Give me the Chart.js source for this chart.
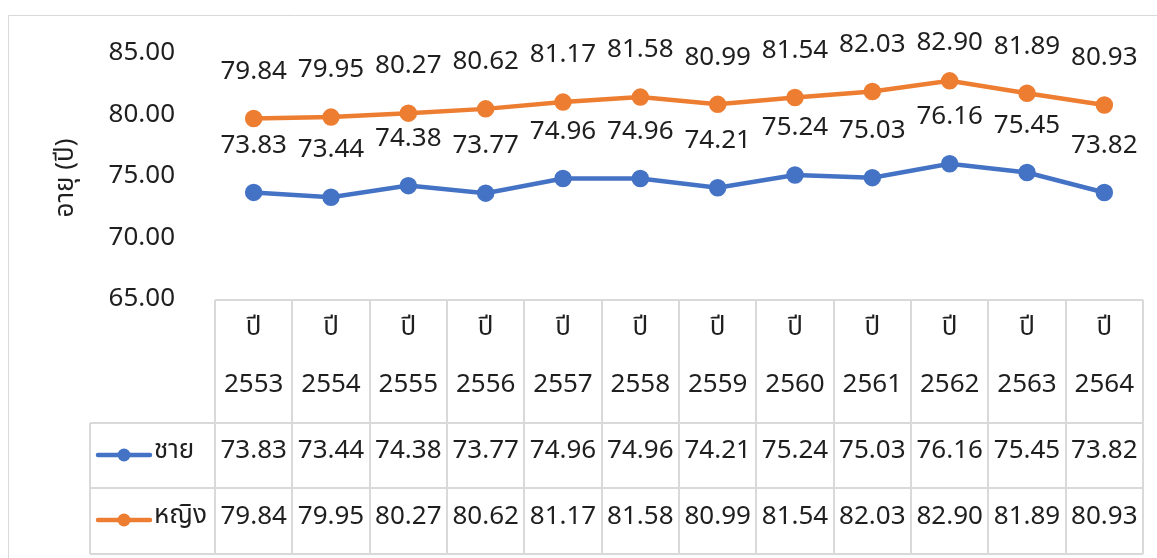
<!DOCTYPE html>
<html>
<head>
<meta charset="utf-8">
<script src="https://cdn.jsdelivr.net/npm/chart.js@4.4.0/dist/chart.umd.min.js"></script>
<style>
  html, body { margin: 0; padding: 0; background: #fff; }
  #wrap { width: 1157px; height: 558px; position: relative; }
</style>
</head>
<body>
<div id="wrap"><canvas id="myChart" width="1157" height="558"></canvas></div>
<script>
// ข้อมูลอายุคาดเฉลี่ย
const years = ["2553", "2554", "2555", "2556", "2557", "2558", "2559", "2560", "2561", "2562", "2563", "2564"];
const male = [73.83, 73.44, 74.38, 73.77, 74.96, 74.96, 74.21, 75.24, 75.03, 76.16, 75.45, 73.82];
const female = [79.84, 79.95, 80.27, 80.62, 81.17, 81.58, 80.99, 81.54, 82.03, 82.90, 81.89, 80.93];
const yTicks = [65, 70, 75, 80, 85];
const seriesNames = ["ชาย", "หญิง"];
const yTitle = "อายุ (ปี)";

const FONT = "'Noto Sans Thai', 'Noto Sans', sans-serif";
const textCol = "#1f1f1f";
const gridCol = "#d9d9d9";

// ป้ายค่าเหนือจุด
const labelPlugin = {
    id: "labels",
    afterDatasetsDraw(chart) {
        let c = chart.ctx;
        c.save();
        c.font = "26px " + FONT;
        c.fillStyle = textCol;
        c.textAlign = "center";
        c.textBaseline = "middle";
        chart.data.datasets.forEach(function (ds, i) {
            chart.getDatasetMeta(i).data.forEach(function (pt, j) {
                let y = Math.max(pt.y - 45, 45);
                c.fillText(ds.data[j].toFixed(2), pt.x, y);
            });
        });
        c.restore();
    }
};

// ตารางข้อมูลใต้กราฟ
const tablePlugin = {
    id: "dataTable",
    afterDraw(chart) {
        let c = chart.ctx;
        let xs = chart.scales.x;
        let left = chart.chartArea.left, right = chart.chartArea.right;
        let step = (right - left) / years.length;
        let top = 300, r1 = 423, r2 = 488, r3 = 554, legL = 90;
        c.save();
        // กรอบนอก
        c.strokeStyle = gridCol;
        c.lineWidth = 1;
        c.beginPath();
        c.moveTo(8.5, 558); c.lineTo(8.5, 15.5); c.lineTo(1157, 15.5);
        c.stroke();

        c.lineWidth = 2;
        c.beginPath();
        c.moveTo(left, top); c.lineTo(right, top);
        c.moveTo(legL, r1); c.lineTo(right, r1);
        c.moveTo(legL, r2); c.lineTo(right, r2);
        c.moveTo(legL, r3); c.lineTo(right, r3);
        c.moveTo(legL, r1); c.lineTo(legL, r3);
        for (let i = 0; i <= years.length; i++) {
            let x = Math.round(left + i * step);
            c.moveTo(x, top); c.lineTo(x, r3);
        }
        c.stroke();

        c.font = "26px " + FONT;
        c.fillStyle = textCol;
        c.textAlign = "center";
        c.textBaseline = "middle";
        years.forEach(function (yr, i) {
            let x = xs.getPixelForValue(i);
            c.fillText("ปี", x, 330);
            c.fillText(yr, x, 387);
            c.fillText(male[i].toFixed(2), x, 453);
            c.fillText(female[i].toFixed(2), x, 519);
        });

        // สัญลักษณ์
        chart.data.datasets.forEach(function (ds, i) {
            let y = i == 0 ? 455 : 520;
            c.strokeStyle = ds.borderColor;
            c.lineWidth = 4.5;
            c.lineCap = "round";
            c.beginPath();
            c.moveTo(98, y); c.lineTo(150, y);
            c.stroke();
            c.fillStyle = ds.borderColor;
            c.beginPath();
            c.arc(124, y, 6.5, 0, Math.PI * 2);
            c.fill();
            c.fillStyle = textCol;
            c.textAlign = "left";
            c.fillText(ds.label, 154, y - 2);
        });
        c.restore();
    }
};

let ctx = document.getElementById("myChart").getContext("2d");
let myChart = new Chart(ctx, {
    type: "line",
    data: {
        labels: years,
        datasets: [
            { label: seriesNames[0], data: male, borderColor: "#4472C4", backgroundColor: "#4472C4",
              borderWidth: 4.5, pointRadius: 6.5, pointHoverRadius: 6.5 },
            { label: seriesNames[1], data: female, borderColor: "#ED7D31", backgroundColor: "#ED7D31",
              borderWidth: 4.5, pointRadius: 6.5, pointHoverRadius: 6.5 }
        ]
    },
    options: {
        responsive: false,
        animation: false,
        events: [],
        layout: { padding: { left: 8, right: 14, top: 55, bottom: 249 } },
        plugins: { legend: { display: false }, tooltip: { enabled: false } },
        scales: {
            x: {
                offset: true,
                grid: { display: false },
                border: { display: false },
                ticks: { display: false }
            },
            y: {
                min: 65, max: 85,
                afterBuildTicks(scale) { scale.ticks = yTicks.map(v => ({ value: v })); },
                afterFit(scale) { scale.width = 207; },
                grid: { display: false },
                border: { display: false },
                ticks: {
                    color: textCol,
                    font: { family: FONT, size: 26 },
                    padding: 32,
                    callback: v => v.toFixed(2)
                },
                title: {
                    display: true, text: yTitle, color: textCol,
                    font: { family: FONT, size: 26 }, padding: { top: 44, bottom: 0 }
                }
            }
        }
    },
    plugins: [labelPlugin, tablePlugin]
});
</script>
</body>
</html>
